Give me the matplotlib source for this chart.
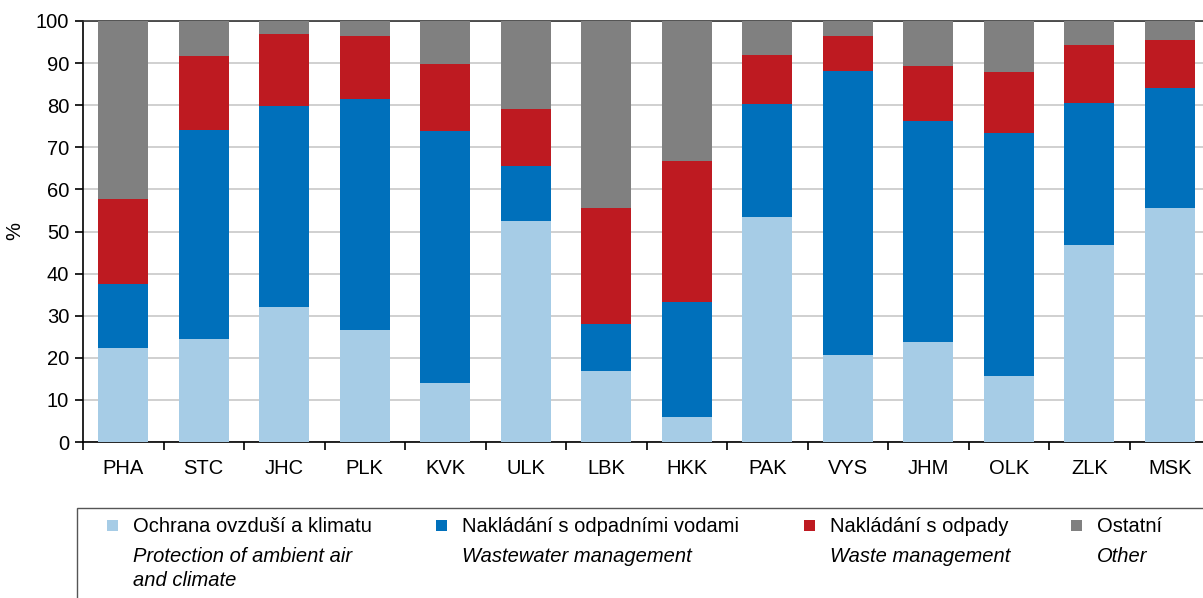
import numpy as np
import matplotlib.pyplot as plt
from matplotlib.patches import Rectangle

plt.rcParams['font.family'] = ['Liberation Sans', 'DejaVu Sans']

regions = ['PHA', 'STC', 'JHC', 'PLK', 'KVK', 'ULK', 'LBK', 'HKK', 'PAK', 'VYS', 'JHM', 'OLK', 'ZLK', 'MSK']

# cumulative tops
air_top   = [22.3, 24.5, 32.1, 26.7, 14.0, 52.4, 16.9, 5.9, 53.4, 20.6, 23.7, 15.6, 46.8, 55.6]
water_top = [37.5, 74.2, 79.9, 81.5, 73.9, 65.5, 28.1, 33.2, 80.3, 88.1, 76.2, 73.5, 80.6, 84.0]
waste_top = [57.7, 91.8, 97.0, 96.4, 89.9, 79.0, 55.6, 66.7, 91.9, 96.4, 89.2, 87.9, 94.2, 95.5]

air = np.array(air_top)
water = np.array(water_top) - np.array(air_top)
waste = np.array(waste_top) - np.array(water_top)
other = 100 - np.array(waste_top)

labels_cz = ['Ochrana ovzduší a klimatu', 'Nakládání s odpadními vodami', 'Nakládání s odpady', 'Ostatní']
labels_en = ['Protection of ambient air\nand climate', 'Wastewater management', 'Waste management', 'Other']
colors = ['#a6cce6', '#0070bb', '#be1a21', '#808080']

fig = plt.figure(figsize=(12.03, 5.98), dpi=100)
ax = fig.add_axes([83 / 1203, 156 / 598, 1127 / 1203, 421 / 598])

x = np.arange(len(regions))
bottom = np.zeros(len(regions))
for vals, c in zip([air, water, waste, other], colors):
    ax.bar(x, vals, 0.62, bottom=bottom, color=c, zorder=3)
    bottom += vals

ax.set_xlim(-0.5, len(regions) - 0.5)
ax.set_ylim(0, 100)
ax.set_yticks(range(0, 101, 10))
ax.set_xticks(x)
ax.set_xticklabels(regions, fontsize=14.5)
ax.set_xticks(np.arange(-0.5, len(regions), 1), minor=True)
ax.tick_params(axis='x', which='major', length=0, pad=12)
ax.tick_params(axis='x', which='minor', length=6, width=1.2, direction='out')
ax.tick_params(axis='y', labelsize=14.5, length=6, width=1.2, pad=4)
ax.grid(axis='y', color='#c8c8c8', linewidth=1.2, zorder=0)
ax.set_ylabel('%', fontsize=14.5, labelpad=8)
for s in ['left', 'bottom', 'top']:
    ax.spines[s].set_linewidth(1.2)
ax.spines['top'].set_color('#333333')
ax.spines['right'].set_visible(False)

# legend box
fig.patches.append(Rectangle((77 / 1203, -0.01), 1.0, 96 / 598, transform=fig.transFigure,
                             facecolor='none', edgecolor='#555555', linewidth=1.0))
col_x = [107, 436, 804, 1071]
for cx, lc, le, c in zip(col_x, labels_cz, labels_en, colors):
    fig.patches.append(Rectangle((cx / 1203, 1 - 531 / 598), 11 / 1203, 11 / 598,
                                 transform=fig.transFigure, facecolor=c, edgecolor='none'))
    fig.text((cx + 26) / 1203, 1 - 526 / 598, lc, fontsize=14.5, va='center', ha='left')
    fig.text((cx + 26) / 1203, 1 - 547 / 598, le, fontsize=14.5, va='top', ha='left',
             style='italic', linespacing=1.3)

fig.savefig('out.png', dpi=100)
